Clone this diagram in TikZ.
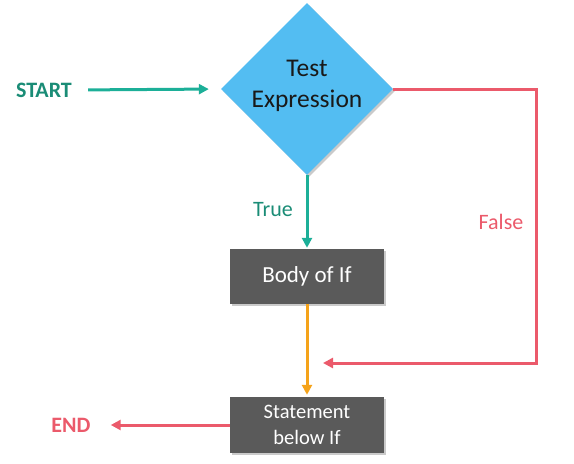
\documentclass[tikz,border=0pt]{standalone}
\usepackage{fontspec}
\setmainfont{Carlito}
\usetikzlibrary{shapes.geometric,arrows.meta,shadows}
\definecolor{tealA}{HTML}{1CAF98}
\definecolor{tealT}{HTML}{1A8C76}
\definecolor{redA}{HTML}{EB5A6B}
\definecolor{blueD}{HTML}{53BDF2}
\definecolor{greyB}{HTML}{5A5A5A}
\definecolor{orangeA}{HTML}{F5A31A}
\tikzset{
  conn/.style={line width=3pt,-{Triangle[length=10pt,width=10pt]}},
  shad/.style={drop shadow={shadow xshift=2pt,shadow yshift=-2pt,opacity=0.35,fill=black!60}},
  procbox/.style={rectangle,fill=greyB,text=white,minimum width=154pt,minimum height=55pt,inner sep=0pt,align=center,shad},
  decbox/.style={diamond,fill=blueD,minimum width=172pt,minimum height=172pt,inner sep=0pt,shad},
  termtext/.style={inner sep=0pt,font=\fontsize{22}{26}\selectfont\bfseries},
  lbltext/.style={inner sep=0pt,font=\fontsize{22}{26}\selectfont}
}
\begin{document}
\begin{tikzpicture}[x=1pt,y=-1pt]
\useasboundingbox (0,0) rectangle (574,464);
\node[decbox] (d) at (307,89) {};
\node[align=center,text=black!90,inner sep=0pt,font=\fontsize{25.5}{31}\selectfont] (dtext) at ([yshift=3pt]d.center) {Test\\Expression};
\node[procbox,font=\fontsize{23}{27}\selectfont] (body) at (307,276.5) {Body of If};
\node[procbox,minimum height=56pt,font=\fontsize{20.5}{26}\selectfont] (stmt) at (307,425) {Statement\\below If};
\node[termtext,text=tealT] (start) at (44,90) {START};
\node[termtext,text=redA] (end) at (71,425) {END};
\node[lbltext,text=tealT] (ltrue) at (273,210) {True};
\node[lbltext,text=redA] (lfalse) at (501,222) {False};
\coordinate (fc1) at (536,89);
\coordinate (fc2) at (536,363);
\coordinate (fend) at (323,363);
\draw[conn,tealA,shorten <=16pt,shorten >=12pt] (start.east) -- (d.west);
\draw[conn,tealA,shorten >=1pt] (d.south) -- (body.north);
\draw[conn,orangeA,shorten >=2pt] (body.south) -- (stmt.north);
\draw[conn,redA] (d.east) -- (fc1) -- (fc2) -- (fend);
\draw[conn,redA,shorten >=20pt] (stmt.west) -- (end.east);
\end{tikzpicture}
\end{document}
